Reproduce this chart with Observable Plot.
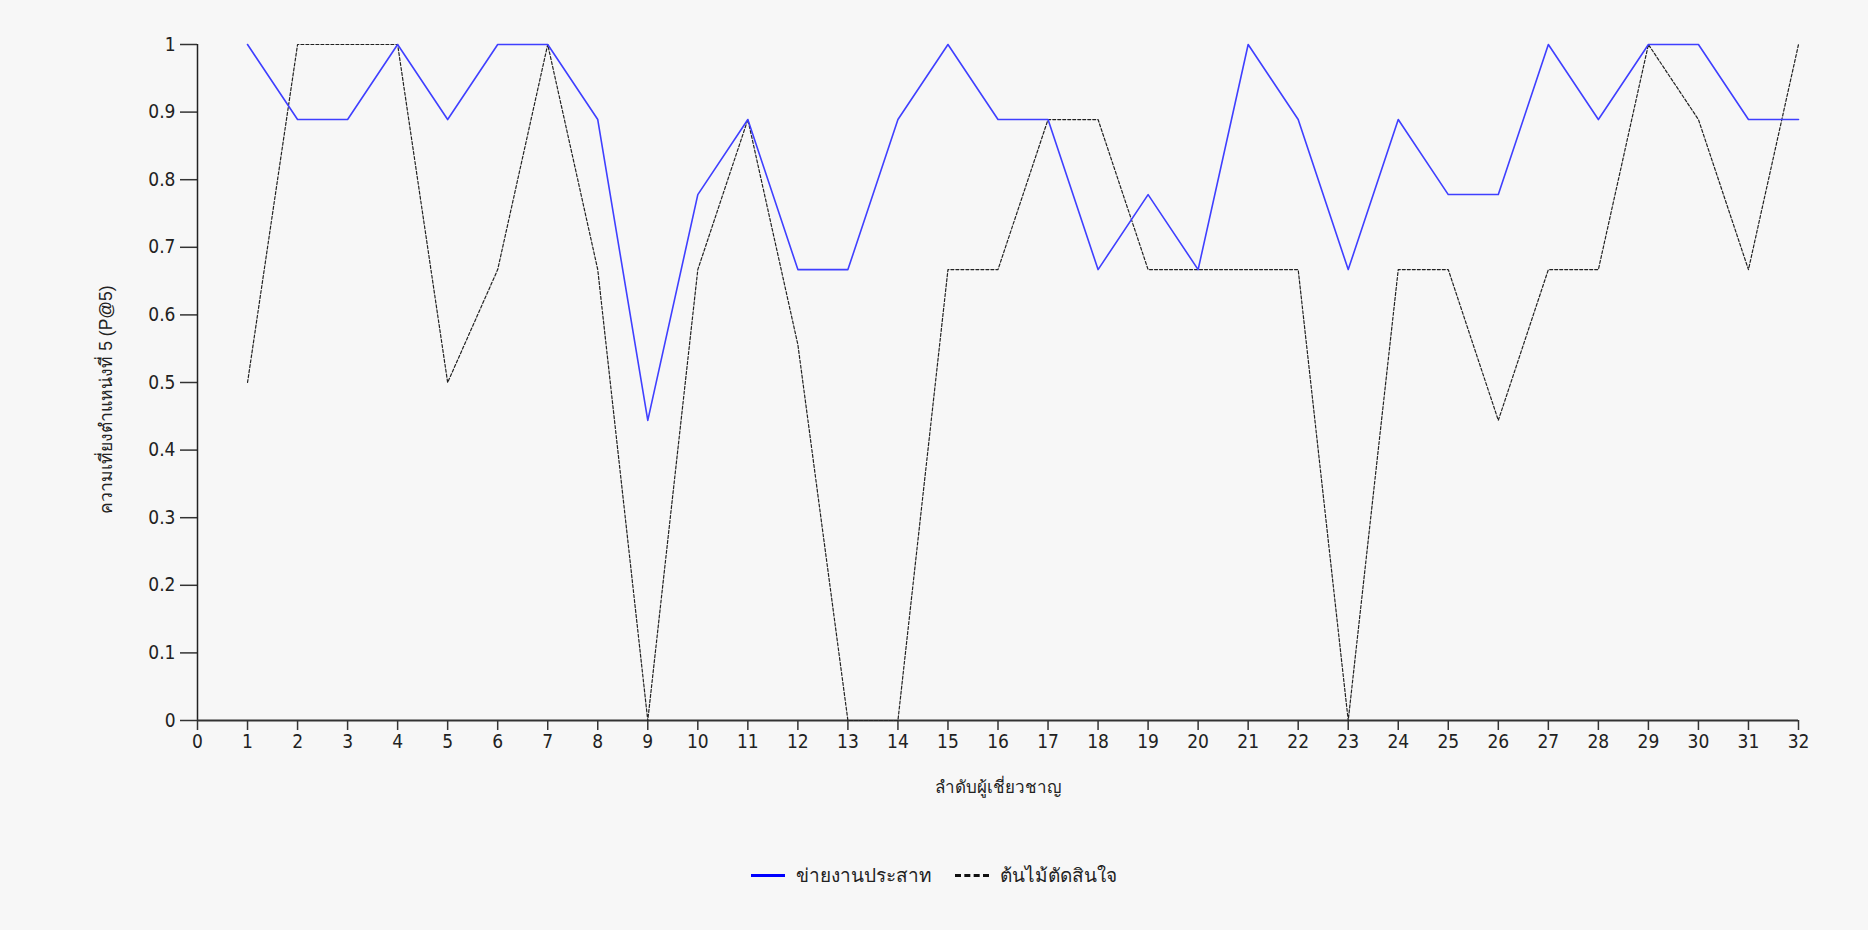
<!DOCTYPE html>
<html>
<head>
<meta charset="utf-8">
<script src="https://cdn.jsdelivr.net/npm/d3@7"></script>
<script src="https://cdn.jsdelivr.net/npm/@observablehq/plot@0.6"></script>
<style>
  html, body { margin: 0; padding: 0; background: #f7f7f7; }
  #chart svg { display: block; background: #f7f7f7; }
  #legend {
    width: 1868px; display: flex; justify-content: center; align-items: center;
    font-family: "Liberation Sans", "Noto Sans", sans-serif; font-size: 19px; color: #222;
    padding-top: 20px;
  }
  .item { display: flex; align-items: center; }
  .sw { width: 34px; height: 0; margin-right: 11px; }
  #chart svg g[aria-label="x-axis tick label"] text,
  #chart svg g[aria-label="y-axis tick label"] text { font-family: "Liberation Sans Narrow", "DejaVu Sans Condensed", "Liberation Sans", sans-serif; font-size: 19px; }
</style>
</head>
<body>
<div id="chart"></div>
<div id="legend"></div>
<script>
const experts = [1,2,3,4,5,6,7,8,9,10,11,12,13,14,15,16,17,18,19,20,21,22,23,24,25,26,27,28,29,30,31,32];
const neuralValues = [1,0.889,0.889,1,0.889,1,1,0.889,0.444,0.778,0.889,0.667,0.667,0.889,1,0.889,0.889,0.667,0.778,0.667,1,0.889,0.667,0.889,0.778,0.778,1,0.889,1,1,0.889,0.889];
const treeValues = [0.5,1,1,1,0.5,0.667,1,0.667,0,0.667,0.889,0.556,0,0,0.667,0.667,0.889,0.889,0.667,0.667,0.667,0.667,0,0.667,0.667,0.444,0.667,0.667,1,0.889,0.667,1];
const xTicks = [0,1,2,3,4,5,6,7,8,9,10,11,12,13,14,15,16,17,18,19,20,21,22,23,24,25,26,27,28,29,30,31,32];
const yTicks = [0,0.1,0.2,0.3,0.4,0.5,0.6,0.7,0.8,0.9,1];
const yTickLabels = ["0","0.1","0.2","0.3","0.4","0.5","0.6","0.7","0.8","0.9","1"];
const seriesNames = ["ข่ายงานประสาท", "ต้นไม้ตัดสินใจ"];
const xTitle = "ลำดับผู้เชี่ยวชาญ";
const yTitle = "ความเที่ยงตำแหน่งที่ 5 (P@5)";

const neural = experts.map((e, i) => ({x: e, y: neuralValues[i]}));
const tree = experts.map((e, i) => ({x: e, y: treeValues[i]}));

const chart = Plot.plot({
  width: 1868,
  height: 840,
  marginLeft: 197,
  marginRight: 70,
  marginTop: 44,
  marginBottom: 120,
  style: {background: "#f7f7f7", fontFamily: "'Liberation Sans', 'Noto Sans', sans-serif", fontSize: "17px", color: "#222"},
  x: {domain: [0, 32]},
  y: {domain: [0, 1]},
  marks: [
    Plot.axisY({ticks: yTicks, tickFormat: (d, i) => yTickLabels[i], tickSize: 17, tickPadding: 5, stroke: "#333", strokeWidth: 1.5, label: null}),
    Plot.text([yTitle], {frameAnchor: "left", textAnchor: "middle", rotate: -90, dx: -91, dy: 17, fontSize: 17.5, fill: "#222"}),
    Plot.axisX({ticks: xTicks, tickSize: 10, tickPadding: 4, stroke: "#333", strokeWidth: 1.5,
      label: xTitle, labelAnchor: "center", labelArrow: "none", labelOffset: 72}),
    Plot.ruleX([0], {y1: 0, y2: 1, stroke: "#222", strokeWidth: 1.5}),
    Plot.ruleY([0], {stroke: "#333", strokeWidth: 2}),
    Plot.line(tree, {x: "x", y: "y", stroke: "#222", strokeWidth: 1.2, strokeDasharray: "3,2"}),
    Plot.line(neural, {x: "x", y: "y", stroke: "#3f3fff", strokeWidth: 1.6})
  ]
});
document.getElementById("chart").appendChild(chart);

const legend = document.getElementById("legend");
const styles = [
  {border: "3px solid #0000ff"},
  {border: "3px dashed #111"}
];
seriesNames.forEach((name, i) => {
  const item = document.createElement("div");
  item.className = "item";
  if (i > 0) item.style.marginLeft = "23px";
  const sw = document.createElement("div");
  sw.className = "sw";
  sw.style.borderTop = styles[i].border;
  const label = document.createElement("span");
  label.textContent = name;
  item.appendChild(sw);
  item.appendChild(label);
  legend.appendChild(item);
});
</script>
</body>
</html>
